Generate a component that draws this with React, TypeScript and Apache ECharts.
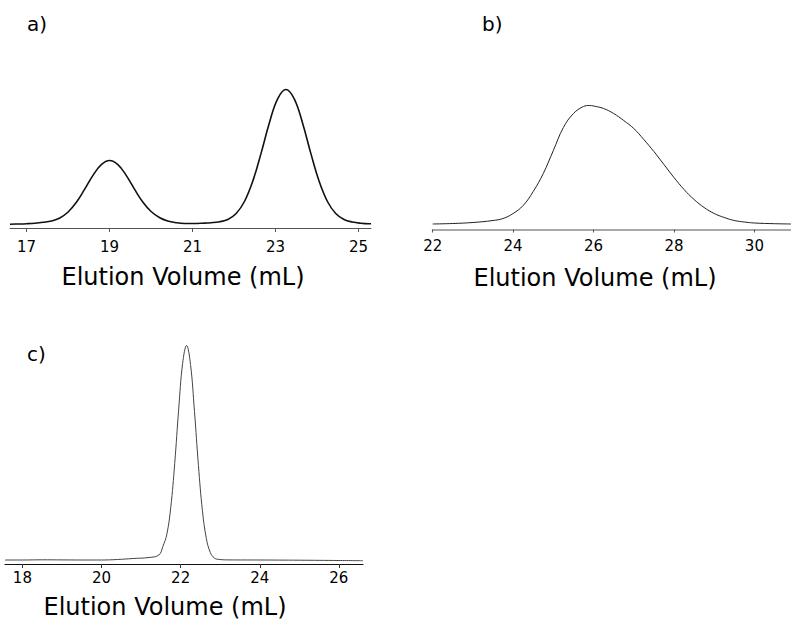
import React, { useEffect, useRef } from "react";
import * as echarts from "echarts";

// Panel a) two-peak chromatogram
const aX = [16.6, 16.8, 17.0, 17.2, 17.4, 17.6, 17.8, 18.0, 18.2, 18.4, 18.6, 18.8, 19.0, 19.2, 19.4, 19.6, 19.8, 20.0, 20.2, 20.4, 20.6, 20.8, 21.0,
  21.25, 21.45, 21.65, 21.85, 22.05, 22.25, 22.45, 22.65, 22.85, 23.05, 23.25, 23.45, 23.65, 23.85, 24.05, 24.25, 24.45, 24.65, 24.85, 25.05, 25.25, 25.3];
const aY = [0.3, 0.5, 0.8, 1.3, 2.2, 3.5, 6.5, 12.5, 22.2, 35.3, 49.1, 59.9, 64, 59.9, 49.1, 35.3, 22.5, 13, 7, 3.5, 1.8, 1.0, 1.0,
  1.3, 1.8, 2.8, 5.0, 11, 23, 43.2, 71.1, 101.6, 125.7, 135, 125.7, 101.6, 71.1, 43.2, 23, 11, 5.0, 2.5, 1.3, 0.8, 0.8];
const aTicks = [17, 19, 21, 23, 25];

// Panel b) broad asymmetric peak
const bX = [22.0, 22.5, 23.0, 23.5, 23.75, 24.0, 24.25, 24.5, 24.75, 25.0, 25.25, 25.5, 25.75, 25.9, 26.0, 26.25, 26.5, 26.75, 27.0, 27.25, 27.5, 27.75, 28.0, 28.25, 28.5, 28.75, 29.0, 29.25, 29.5, 29.75, 30.0, 30.5, 30.91];
const bY = [0.5, 1.0, 2, 4, 6, 11, 19, 33, 51, 74, 97, 111, 118, 119, 118.5, 116, 111, 104, 96, 85, 73, 60, 47, 35, 25, 17, 11, 7, 4, 2.5, 1.5, 0.8, 0.5];
const bTicks = [22, 24, 26, 28, 30];

// Panel c) narrow single peak
const cX = [17.56, 18.0, 18.5, 19.0, 19.5, 20.0, 20.4, 20.8, 21.2, 21.45, 21.55, 21.65, 21.75, 21.85, 21.95, 22.05, 22.15, 22.25, 22.35, 22.45, 22.55, 22.65, 22.75, 22.85, 22.95, 23.2, 24.0, 25.0, 26.0, 26.61];
const cY = [1.5, 1.5, 1.7, 1.6, 1.5, 1.5, 2.0, 3.0, 4.0, 6.5, 15, 27, 54, 98, 152, 198, 216, 197, 150, 96, 51, 23, 9, 3.5, 2.2, 1.6, 1.5, 1.3, 1.0, 0.8];
const cTicks = [18, 20, 22, 24, 26];

const axisTitle = "Elution Volume (mL)";
const panelLabels = ["a)", "b)", "c)"];

const FONT = "DejaVu Sans";

function pairs(xs: number[], ys: number[]) {
  return xs.map((x, i) => [x, ys[i]]);
}

export default function App() {
  const ref = useRef<HTMLDivElement>(null);
  useEffect(() => {
    if (!ref.current) return;
    const chart = echarts.init(ref.current, undefined, { renderer: "svg" });
    const labelStyle = { fontSize: 15, fontFamily: FONT, color: "#000" };
    const titleStyle = { fontSize: 24, fontFamily: FONT, fill: "#000", textAlign: "center", textVerticalAlign: "middle" };
    const option: any = {
      animation: false,
      backgroundColor: "#fff",
      grid: [
        { left: 10, top: 84.5, width: 361, height: 143.5, outerBoundsMode: "none", containLabel: false },
        { left: 432.7, top: 99.5, width: 358.3, height: 130, outerBoundsMode: "none", containLabel: false },
        { left: 5, top: 341.5, width: 358, height: 222.5, outerBoundsMode: "none", containLabel: false },
      ],
      xAxis: [
        {
          type: "value", gridIndex: 0, min: 16.6, max: 25.3,
          axisLine: { show: true, onZero: false, lineStyle: { color: "#555", width: 1 } },
          axisTick: { show: true, customValues: aTicks, length: 4, lineStyle: { color: "#555" } },
          axisLabel: { customValues: aTicks, margin: 11, ...labelStyle },
          splitLine: { show: false },
        },
        {
          type: "value", gridIndex: 1, min: 22, max: 30.91,
          axisLine: { show: true, onZero: false, lineStyle: { color: "#a8a8a8", width: 2 } },
          axisTick: { show: true, customValues: bTicks, length: 3, lineStyle: { color: "#555" } },
          axisLabel: { customValues: bTicks, margin: 9, ...labelStyle },
          splitLine: { show: false },
        },
        {
          type: "value", gridIndex: 2, min: 17.56, max: 26.61,
          axisLine: { show: true, onZero: false, lineStyle: { color: "#111", width: 1.2 } },
          axisTick: { show: true, customValues: cTicks, length: 4, lineStyle: { color: "#333" } },
          axisLabel: { customValues: cTicks, margin: 6, ...labelStyle },
          splitLine: { show: false },
        },
      ],
      yAxis: [
        { type: "value", gridIndex: 0, min: -3.5, max: 140, show: false },
        { type: "value", gridIndex: 1, min: -5, max: 125, show: false },
        { type: "value", gridIndex: 2, min: -2.5, max: 220, show: false },
      ],
      series: [
        {
          type: "line", xAxisIndex: 0, yAxisIndex: 0, data: pairs(aX, aY),
          symbol: "none", smooth: 0.4, lineStyle: { color: "#111", width: 1.6 },
        },
        {
          type: "line", xAxisIndex: 1, yAxisIndex: 1, data: pairs(bX, bY),
          symbol: "none", smooth: 0.4, lineStyle: { color: "#222", width: 1 },
        },
        {
          type: "line", xAxisIndex: 2, yAxisIndex: 2, data: pairs(cX, cY),
          symbol: "none", smooth: 0.4, lineStyle: { color: "#444", width: 1 },
        },
      ],
      graphic: [
        { type: "text", left: 27, top: 14, style: { text: panelLabels[0], fontSize: 20, fontFamily: FONT, fill: "#000" } },
        { type: "text", left: 482, top: 14, style: { text: panelLabels[1], fontSize: 20, fontFamily: FONT, fill: "#000" } },
        { type: "text", left: 27, top: 344, style: { text: panelLabels[2], fontSize: 20, fontFamily: FONT, fill: "#000" } },
        { type: "text", x: 183, y: 277, style: { text: axisTitle, ...titleStyle } },
        { type: "text", x: 595, y: 277.5, style: { text: axisTitle, ...titleStyle } },
        { type: "text", x: 165, y: 606.5, style: { text: axisTitle, ...titleStyle } },
      ],
    };
    chart.setOption(option);
    return () => chart.dispose();
  }, []);
  return (
    <div
      ref={ref}
      style={{ position: "fixed", left: 0, top: 0, width: 791, height: 620, background: "#fff" }}
    />
  );
}
